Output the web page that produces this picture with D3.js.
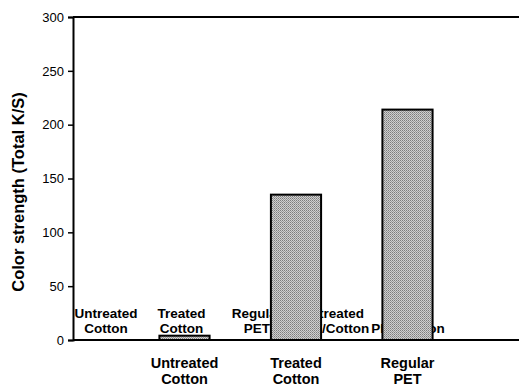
<!DOCTYPE html>
<html>
<head>
<meta charset="utf-8">
<script src="https://cdn.jsdelivr.net/npm/d3@7"></script>
<style>
  body { margin: 0; background: #fff; }
  svg { font-family: "Liberation Sans", Arial, sans-serif; }
</style>
</head>
<body>
<div id="chart"></div>
<script>
// bars
const categories = [["Untreated", "Cotton"], ["Treated", "Cotton"], ["Regular", "PET"]]
const values = [4, 135, 214]
// leftover labels printed inside the plot
const innerLabels = [["Untreated", "Cotton"], ["Treated", "Cotton"], ["Regular", "PET"],
  ["Untreated", "PET/Cotton"], ["Treated", "PET/Cotton"]]
const yTicks = [0, 50, 100, 150, 200, 250, 300]

const W = 519, H = 389
const mLeft = 73, mRight = 519, mTop = 17, mBottom = 340

const svg = d3.select('#chart')
  .append('svg')
    .attr('width', W)
    .attr('height', H)

// stipple fill for the bars
const defs = svg.append('defs')
const pat = defs.append('pattern')
    .attr('id', 'stip')
    .attr('width', 2)
    .attr('height', 2)
    .attr('patternUnits', 'userSpaceOnUse')
pat.append('rect').attr('width', 2).attr('height', 2).attr('fill', '#cfcfcf')
pat.append('rect').attr('width', 1).attr('height', 1).attr('fill', '#7c7c7c')
pat.append('rect').attr('x', 1).attr('y', 1).attr('width', 1).attr('height', 1).attr('fill', '#999')

const x = d3.scaleLinear().domain([0, 4]).range([mLeft, mRight])
const y = d3.scaleLinear().domain([0, 300]).range([mBottom, mTop])
const barW = x(0.45) - x(0)

// inner labels (drawn first, bars cover them)
const inner = d3.scalePoint().domain(d3.range(innerLabels.length)).range([106, 408])
svg.append('g')
  .selectAll('text')
  .data(innerLabels)
  .enter()
  .append('text')
    .attr('y', 318)
    .attr('text-anchor', 'middle')
    .style('font-size', '13.5px')
    .style('font-weight', 'bold')
    .each(function (d, i) {
      d3.select(this).selectAll('tspan')
        .data(d)
        .enter()
        .append('tspan')
          .attr('x', inner(i))
          .attr('dy', (_, j) => j ? 15 : 0)
          .text(t => t)
    })

svg.append('g')
  .selectAll('rect')
  .data(values)
  .enter()
  .append('rect')
    .attr('x', (d, i) => x(i + 1) - barW / 2)
    .attr('y', d => y(d))
    .attr('width', barW)
    .attr('height', d => y(0) - y(d))
    .style('fill', 'url(#stip)')
    .style('stroke', '#000')
    .style('stroke-width', 2)

// frame: left, top, bottom
const yAxis = d3.axisLeft(y).tickValues(yTicks).tickSize(5).tickPadding(4)
const ga = svg.append('g')
    .attr('transform', `translate(${mLeft},0)`)
    .call(yAxis)
ga.select('.domain').style('stroke-width', 2)
ga.selectAll('.tick line').style('stroke-width', 1.5)
ga.selectAll('.tick text')
    .style('font-size', '13px')
    .style('font-family', '"Liberation Sans", Arial, sans-serif')
    .attr('fill', '#000')

svg.append('line')
    .attr('x1', mLeft).attr('x2', mRight)
    .attr('y1', mTop).attr('y2', mTop)
    .style('stroke', '#000').style('stroke-width', 2)
svg.append('line')
    .attr('x1', mLeft).attr('x2', mRight)
    .attr('y1', mBottom).attr('y2', mBottom)
    .style('stroke', '#000').style('stroke-width', 2)

// category labels under the axis
svg.append('g')
  .selectAll('text')
  .data(categories)
  .enter()
  .append('text')
    .attr('text-anchor', 'middle')
    .attr('y', 368)
    .style('font-size', '14.5px')
    .style('font-weight', 'bold')
    .each(function (d, i) {
      d3.select(this).selectAll('tspan')
        .data(d)
        .enter()
        .append('tspan')
          .attr('x', x(i + 1))
          .attr('dy', (_, j) => j ? 16 : 0)
          .text(t => t)
    })

svg.append('text')
    .attr('transform', 'translate(24,192) rotate(-90)')
    .attr('text-anchor', 'middle')
    .style('font-size', '16.5px')
    .style('font-weight', 'bold')
    .text('Color strength (Total K/S)')
</script>
</body>
</html>
